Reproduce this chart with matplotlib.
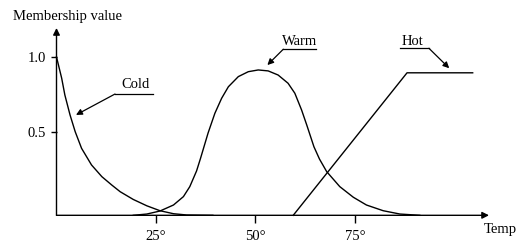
import matplotlib.pyplot as plt

# membership curves (temperature in degrees, membership value)
cold_x = [0.0, 1.3, 2.1, 3.4, 4.7, 6.3, 8.8, 11.4, 13.9, 16.0, 19.3, 22.7, 26.0, 29.4, 32.7, 39.3]
cold_y = [1.0, 0.866, 0.76, 0.634, 0.528, 0.423, 0.318, 0.244, 0.191, 0.149, 0.100, 0.060,
          0.029, 0.010, 0.002, 0.0]

warm_x = [19.3, 22.7, 26.0, 29.4, 31.9, 33.5, 35.2, 36.2, 38.1, 39.8, 41.5, 43.2, 45.7,
          48.2, 50.7, 53.2, 55.7, 58.2, 59.9, 61.6, 62.9, 64.7, 66.1, 67.9, 71.2, 74.6,
          77.9, 82.1, 86.3, 91.3]
warm_y = [0.0, 0.008, 0.027, 0.065, 0.118, 0.181, 0.28, 0.36, 0.52, 0.644, 0.739, 0.812,
          0.876, 0.907, 0.918, 0.912, 0.886, 0.834, 0.771, 0.665, 0.57, 0.433, 0.355, 0.276,
          0.181, 0.114, 0.065, 0.029, 0.008, 0.0]

hot_x = [59.5, 88.1, 104.6]
hot_y = [0.0, 0.90, 0.90]

xticks = [25, 50, 75]
xtick_labels = ['25°', '50°', '75°']
yticks = [0.525, 1.0]
ytick_labels = ['0.5', '1.0']

plt.rcParams['font.family'] = ['Liberation Serif', 'DejaVu Serif']
plt.rcParams['font.size'] = 10.5

fig = plt.figure(figsize=(5.17, 2.44), dpi=100)
W, H = 517, 244
# axes placed so the origin sits where the reference draws it
ax = fig.add_axes([56.5 / W, (H - 215.3) / H, (489 - 56.5) / W, (215.3 - 28) / H])
ax.set_xlim(0, 108.7)
ax.set_ylim(0, 1.183)

for s in ['top', 'right', 'left', 'bottom']:
    ax.spines[s].set_visible(False)

# axis lines with arrow heads
arrow = dict(arrowstyle='-|>', color='black', lw=1.0, mutation_scale=10, shrinkA=0, shrinkB=0)
ax.annotate('', xy=(108.7, 0), xytext=(0, 0), arrowprops=arrow, annotation_clip=False)
ax.annotate('', xy=(0, 1.183), xytext=(0, 0), arrowprops=arrow, annotation_clip=False)

ax.plot(cold_x, cold_y, color='black', lw=1.0, clip_on=False)
ax.plot(warm_x, warm_y, color='black', lw=1.0, clip_on=False)
ax.plot(hot_x, hot_y, color='black', lw=1.0, clip_on=False)

ax.set_xticks(xticks)
ax.set_xticklabels(xtick_labels)
ax.set_yticks(yticks)
ax.set_yticklabels(ytick_labels)
ax.tick_params(axis='x', direction='out', length=5.5, width=1.0, pad=5)
ax.tick_params(axis='y', direction='out', length=4.5, width=1.0, pad=3)

fig.text(12.7 / W, (H - 20) / H, 'Membership value', ha='left', va='baseline')
fig.text(483.3 / W, (H - 233) / H, 'Temp', ha='left', va='baseline')

# labels with an underline and a pointer arrow
ptr = dict(arrowstyle='-|>', color='black', lw=0.9, mutation_scale=9, shrinkA=0, shrinkB=0)
labels = [
    ('Cold', 19.9, 0.805, (14.7, 24.3), 0.766, (14.7, 0.766), (4.9, 0.634)),
    ('Warm', 61.2, 1.076, (57.0, 65.1), 1.049, (57.0, 1.049), (53.0, 0.949)),
    ('Hot', 89.4, 1.076, (86.3, 93.6), 1.055, (93.6, 1.055), (98.7, 0.929)),
]
for name, tx, ty, (u0, u1), uy, start, tip in labels:
    ax.text(tx, ty, name, ha='center', va='baseline')
    ax.plot([u0, u1], [uy, uy], color='black', lw=0.9, clip_on=False)
    ax.annotate('', xy=tip, xytext=start, arrowprops=ptr, annotation_clip=False)

fig.savefig('out.png', dpi=100)
